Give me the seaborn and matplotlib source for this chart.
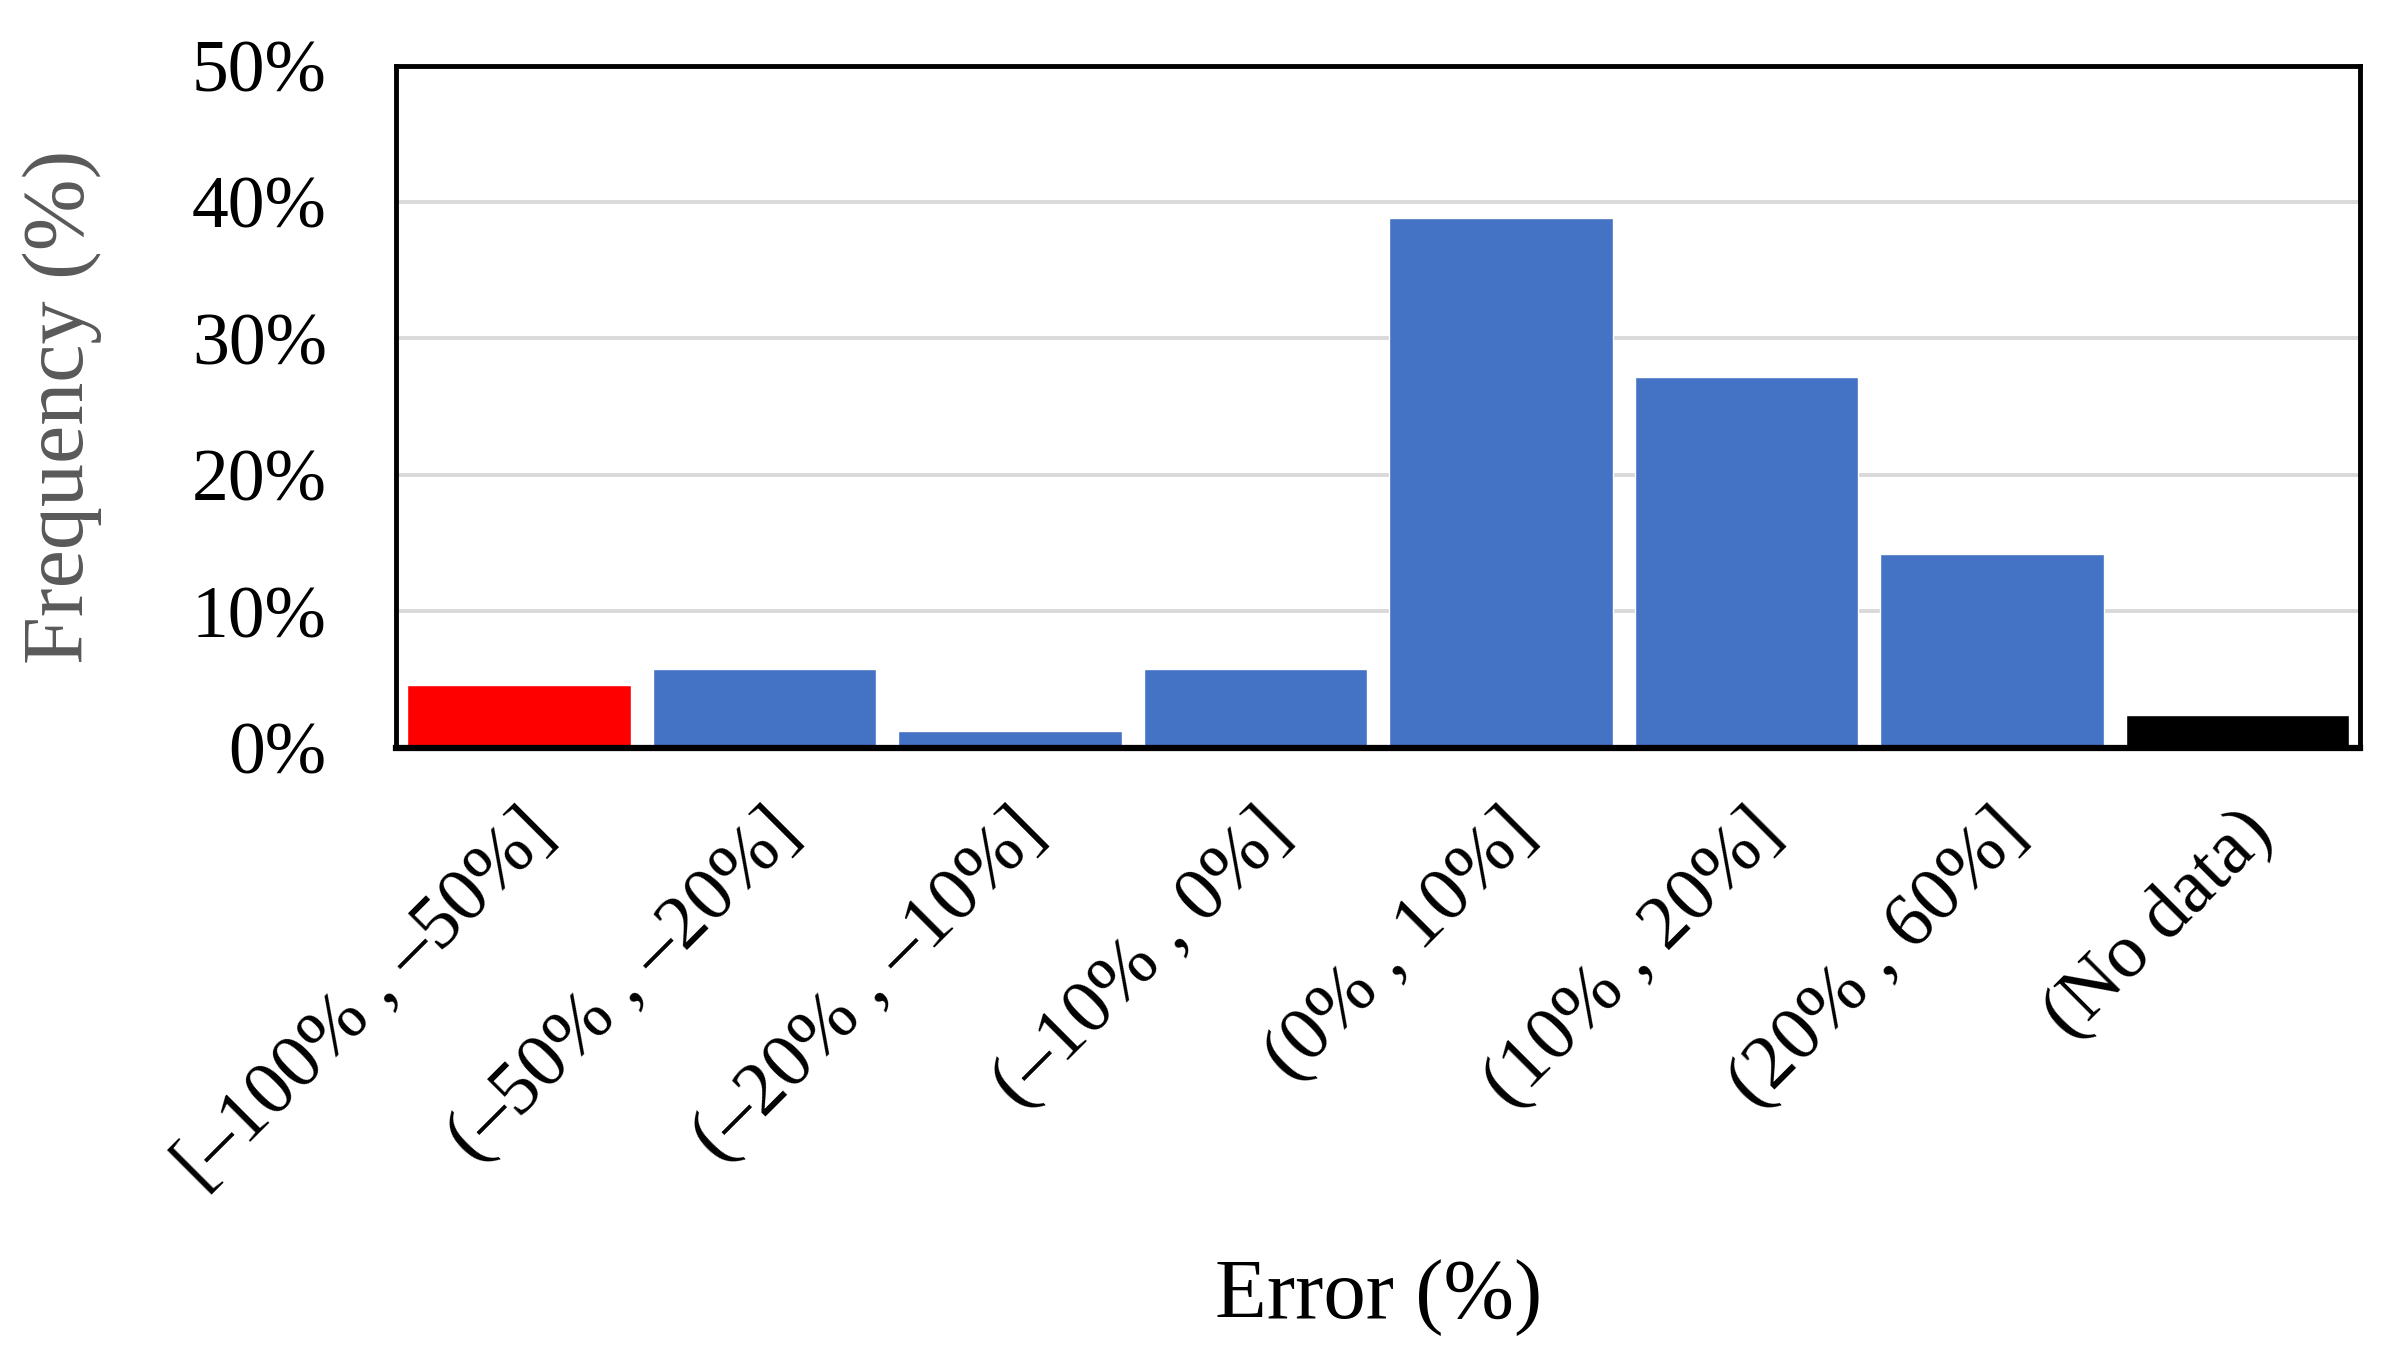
import pandas as pd
import matplotlib
matplotlib.use('Agg')
import matplotlib.pyplot as plt
import seaborn as sns

# Error bins and their frequency (%)
bins = ['[–100% , –50%]', '(–50% , –20%]', '(–20% , –10%]', '(–10% , 0%]',
        '(0% , 10%]', '(10% , 20%]', '(20% , 60%]', '(No data)']
freq = [4.6, 5.8, 1.2, 5.8, 38.8, 27.2, 14.2, 2.4]
bar_colors = ['#FF0000', '#4472C4', '#4472C4', '#4472C4',
              '#4472C4', '#4472C4', '#4472C4', '#000000']
y_ticks = [0, 10, 20, 30, 40, 50]

df = pd.DataFrame({'bin': bins, 'freq': freq})

sns.set_style('white')
plt.rcParams['font.family'] = ['Liberation Serif', 'DejaVu Serif']
plt.rcParams['text.color'] = 'black'
plt.rcParams['xtick.color'] = 'black'
plt.rcParams['ytick.color'] = 'black'

fig = plt.figure(figsize=(23.87, 13.57), dpi=100)
ax = fig.add_axes([0.166, 0.449, 0.8227, 0.5027])

sns.barplot(data=df, x='bin', y='freq', hue='bin', palette=bar_colors,
            width=0.91, saturation=1, legend=False, ax=ax, zorder=3)

ax.set_ylim(0, 50)
ax.set_xlim(-0.5, len(bins) - 0.5)
ax.set_yticks(y_ticks)
ax.set_yticklabels([f'{t}%' for t in y_ticks])
ax.yaxis.grid(True, color='#D9D9D9', linewidth=2.8, zorder=0)
ax.set_axisbelow(True)

for s in ax.spines.values():
    s.set_visible(True)
    s.set_color('black')
    s.set_linewidth(3.5)
    s.set_zorder(4)
ax.spines['bottom'].set_linewidth(4.5)

ax.tick_params(axis='y', length=0, pad=50, labelsize=53)
ax.tick_params(axis='x', length=0, pad=36, labelsize=55)
for lab in ax.get_xticklabels():
    lab.set_rotation(45)
    lab.set_ha('right')
    lab.set_rotation_mode('anchor')

ax.set_xlabel('Error (%)', fontsize=61, color='black')
ax.set_ylabel('Frequency (%)', fontsize=62, color='#595959')
ax.yaxis.set_label_coords(-0.15, 0.5)
ax.xaxis.set_label_coords(0.5, -0.75)

fig.savefig('out.png', dpi=100)
